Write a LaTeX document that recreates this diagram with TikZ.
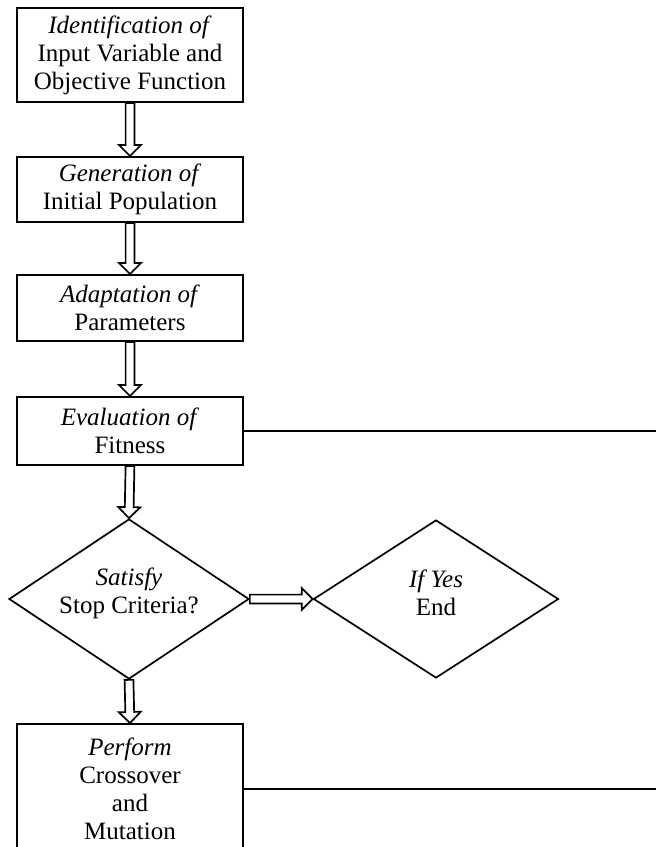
\documentclass[tikz,border=0pt]{standalone}
\usepackage{fontspec}
\setmainfont{Liberation Serif}
\usetikzlibrary{calc,shapes.geometric}
\begin{document}
\begin{tikzpicture}[x=1pt,y=-1pt,
  every node/.style={font=\fontsize{25}{28}\selectfont},
  stepbox/.style={draw, line width=2pt, minimum width=226pt, inner sep=0pt, align=center},
  decision/.style={draw, diamond, line width=1.7pt, inner sep=0pt},
  qtext/.style={align=center},
  link/.style={line width=1.6pt},
  % hollow block arrow drawn as an outline between two anchors
  blockarrow/.style={draw, line width=1.7pt, line join=miter, to path={
    ($(\tikztostart)!4.4pt!90:(\tikztotarget)$)
    -- ($(\tikztotarget)!11pt!(\tikztostart)!4.4pt!-90:(\tikztostart)$)
    -- ($(\tikztotarget)!11pt!(\tikztostart)!11pt!-90:(\tikztostart)$)
    -- (\tikztotarget)
    -- ($(\tikztotarget)!11pt!(\tikztostart)!11pt!90:(\tikztostart)$)
    -- ($(\tikztotarget)!11pt!(\tikztostart)!4.4pt!90:(\tikztostart)$)
    -- ($(\tikztostart)!4.4pt!-90:(\tikztotarget)$)
    -- cycle}}
]
\path[use as bounding box, clip] (0,0) rectangle (656,847);
\coordinate (rim) at (660,0);

% process steps
\node[stepbox, minimum height=94pt] (b1) at (130,55)
  {\textit{Identification of}\\Input Variable and\\Objective Function};
\node[stepbox, minimum height=65pt] (b2) at (130,189.5)
  {\textit{Generation of}\\Initial Population};
\node[stepbox, minimum height=66pt] (b3) at (130,308)
  {\textit{Adaptation of}\\Parameters};
\node[stepbox, minimum height=68pt] (b4) at (130,431)
  {\textit{Evaluation of}\\Fitness};
\node[stepbox, minimum height=130pt] (b5) at (130,789)
  {\textit{Perform}\\Crossover\\and\\Mutation};

% decisions
\node[decision, minimum width=240pt, minimum height=160pt] (d1) at (129,599) {};
\node[qtext] (q1) at ($(d1)+(0,-6)$) {\textit{Satisfy}\\Stop Criteria?};
\node[decision, minimum width=245pt, minimum height=158pt] (d2) at (436,599) {};
\node[qtext] (q2) at ($(d2)+(0,-6)$) {\textit{If Yes}\\End};

% flow arrows
\draw[blockarrow] (b1.south) to (b2.north);
\draw[blockarrow] (b2.south) to (b3.north);
\draw[blockarrow] (b3.south) to (b4.north);
\draw[blockarrow] (b4.south) to (d1.north);
\draw[blockarrow] (d1.south) to (b5.north);
\draw[blockarrow] (d1.east) to (d2.west);

% return lines leaving to the right
\draw[link] (b4.east) -- (b4.east -| rim);
\draw[link] (b5.east) -- (b5.east -| rim);
\end{tikzpicture}
\end{document}
